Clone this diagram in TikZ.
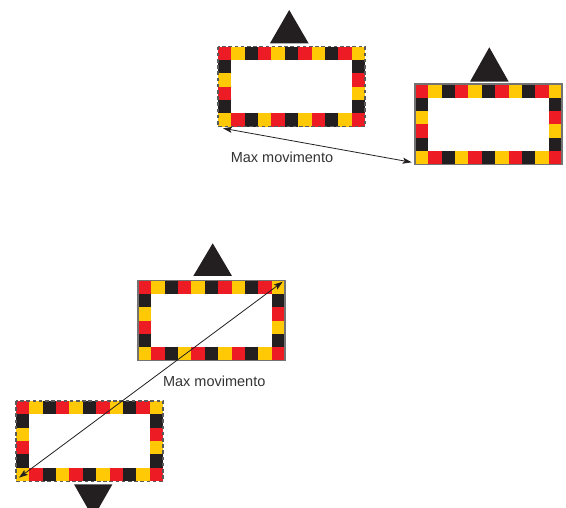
\documentclass[tikz,border=0pt]{standalone}
\usepackage{fontspec}
\setmainfont{Liberation Sans}
\usetikzlibrary{arrows.meta}
\definecolor{cR}{HTML}{ED1C24}
\definecolor{cY}{HTML}{FFCA05}
\definecolor{cK}{HTML}{231F20}
\definecolor{edgegray}{HTML}{5A5A5A}
\definecolor{txtgray}{HTML}{333333}
\colorlet{c0}{cR}\colorlet{c1}{cY}\colorlet{c2}{cK}
\newcommand\cs{13.36}
% #1,#2 = top-left corner, #3 = border style, #4 = name prefix
\newcommand\stripeframe[4]{%
  \begin{scope}[shift={(#1,#2)}]
    \foreach \i in {0,...,10}{%
      \pgfmathtruncatemacro\k{mod(\i,3)}%
      \fill[c\k] (\i*\cs,0) rectangle ++(\cs,\cs);}
    \foreach \j in {1,...,5}{%
      \pgfmathtruncatemacro\k{mod(10+\j,3)}%
      \fill[c\k] (10*\cs,\j*\cs) rectangle ++(\cs,\cs);}
    \foreach \i in {0,...,9}{%
      \pgfmathtruncatemacro\k{mod(25-\i,3)}%
      \fill[c\k] (\i*\cs,5*\cs) rectangle ++(\cs,\cs);}
    \foreach \j in {1,...,4}{%
      \pgfmathtruncatemacro\k{mod(30-\j,3)}%
      \fill[c\k] (0,\j*\cs) rectangle ++(\cs,\cs);}
    \draw[#3] (0,0) rectangle (11*\cs,6*\cs);
    \coordinate (#4tl) at (0,0);
    \coordinate (#4tr) at (11*\cs,0);
    \coordinate (#4bl) at (0,6*\cs);
    \coordinate (#4br) at (11*\cs,6*\cs);
  \end{scope}}
\tikzset{
  dashedge/.style={draw=edgegray, line width=1.1pt, dash pattern=on 3.6pt off 2.6pt},
  solidedge/.style={draw=edgegray!85, line width=1.4pt},
  tri/.style={fill=cK},
  movearrow/.style={draw=cK, line width=0.8pt, {Stealth[length=9pt,width=6pt,inset=2pt]}-{Stealth[length=9pt,width=6pt,inset=2pt]}},
  lbl/.style={text=txtgray, font=\fontsize{14.5}{17}\selectfont, inner sep=0pt}
}
\begin{document}
\begin{tikzpicture}[x=1pt,y=-1pt]
  \useasboundingbox (0,0) rectangle (566,508);
  % frames
  \stripeframe{218}{46.6}{dashedge}{ra}
  \stripeframe{415}{84.2}{solidedge}{rb}
  \stripeframe{138}{280.6}{solidedge}{rc}
  \stripeframe{16}{401}{dashedge}{rd}
  % triangles
  \fill[tri] (270,43.3) -- (289.2,10) -- (308.6,43.3) -- cycle;
  \fill[tri] (470,81.7) -- (489.3,47.3) -- (508.7,81.7) -- cycle;
  \fill[tri] (193.3,276) -- (212.7,243.3) -- (232,276) -- cycle;
  \fill[tri] (74,484.3) -- (93.2,518) -- (112.4,484.3) -- cycle;
  % arrow endpoints
  \coordinate (m1a) at (223,128.3);
  \coordinate (m1b) at (411.7,162.3);
  \coordinate (m2a) at (19,477.7);
  \coordinate (m2b) at (282.7,281.7);
  \draw[movearrow] (m1a) -- (m1b);
  \draw[movearrow] (m2a) -- (m2b);
  % labels
  \node[lbl] (l1) at (282,157.5) {Max movimento};
  \node[lbl] (l2) at (214.2,381) {Max movimento};
\end{tikzpicture}
\end{document}
